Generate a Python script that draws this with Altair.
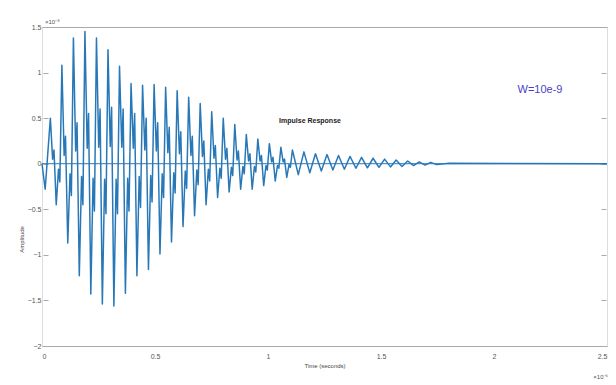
import altair as alt
import pandas as pd

# time in units of 1e-6 s, amplitude in units of 1e-8
peak_t = [0.037, 0.088, 0.139, 0.190, 0.241, 0.292, 0.343, 0.394, 0.445, 0.496,
          0.547, 0.598, 0.649, 0.700, 0.751, 0.802, 0.853, 0.904, 0.955, 1.006,
          1.057, 1.108, 1.159, 1.210, 1.261, 1.312, 1.363, 1.414, 1.465, 1.516,
          1.567, 1.618, 1.669, 1.720]
peak_amp = [0.50, 1.08, 1.38, 1.45, 1.38, 1.25, 1.07, 0.88, 0.86, 0.87,
            0.84, 0.80, 0.73, 0.66, 0.57, 0.50, 0.43, 0.32, 0.27, 0.22,
            0.18, 0.15, 0.13, 0.11, 0.10, 0.09, 0.08, 0.07, 0.06, 0.05,
            0.04, 0.03, 0.02, 0.015]
trough_t = [0.063, 0.114, 0.165, 0.216, 0.267, 0.318, 0.369, 0.420, 0.471, 0.522,
            0.573, 0.624, 0.675, 0.726, 0.777, 0.828, 0.879, 0.930, 0.981, 1.032,
            1.083, 1.134, 1.185, 1.236, 1.287, 1.338, 1.389, 1.440, 1.491, 1.542,
            1.593, 1.644, 1.695, 1.746]
trough_amp = [-0.45, -0.87, -1.23, -1.43, -1.54, -1.56, -1.42, -1.23, -1.16, -0.99,
              -0.86, -0.69, -0.57, -0.45, -0.37, -0.31, -0.28, -0.28, -0.24, -0.19,
              -0.15, -0.12, -0.10, -0.08, -0.07, -0.06, -0.05, -0.045, -0.04, -0.035,
              -0.03, -0.02, -0.015, -0.01]
ripple_t = [0.047, 0.053, 0.073, 0.079,
            0.098, 0.104, 0.124, 0.130,
            0.149, 0.155, 0.175, 0.181,
            0.200, 0.206, 0.226, 0.232,
            0.251, 0.257, 0.277, 0.283,
            0.302, 0.308, 0.328, 0.334,
            0.353, 0.359, 0.379, 0.385,
            0.404, 0.410, 0.430, 0.436,
            0.455, 0.461, 0.481, 0.487,
            0.506, 0.512, 0.532, 0.538,
            0.557, 0.563, 0.583, 0.589,
            0.608, 0.614, 0.634, 0.640,
            0.659, 0.665, 0.685, 0.691,
            0.710, 0.716, 0.736, 0.742,
            0.761, 0.767, 0.787, 0.793,
            0.812, 0.818, 0.838, 0.844,
            0.863, 0.869, 0.889, 0.895,
            0.914, 0.920, 0.940, 0.946,
            0.965, 0.971, 0.991, 0.997,
            1.016, 1.022, 1.042, 1.048,
            1.067, 1.073, 1.093, 1.099]
ripple_amp = [0.05, 0.15, -0.06, -0.20,
              0.09, 0.30, -0.11, -0.35,
              0.14, 0.45, -0.14, -0.45,
              0.17, 0.55, -0.16, -0.52,
              0.18, 0.60, -0.17, -0.55,
              0.19, 0.62, -0.17, -0.55,
              0.18, 0.60, -0.16, -0.52,
              0.17, 0.55, -0.14, -0.48,
              0.15, 0.50, -0.13, -0.42,
              0.14, 0.45, -0.11, -0.37,
              0.12, 0.40, -0.10, -0.32,
              0.11, 0.35, -0.08, -0.27,
              0.09, 0.30, -0.07, -0.23,
              0.08, 0.25, -0.06, -0.19,
              0.06, 0.20, -0.05, -0.16,
              0.05, 0.17, -0.04, -0.13,
              0.04, 0.14, -0.03, -0.11,
              0.03, 0.11, -0.03, -0.09,
              0.03, 0.09, -0.02, -0.07,
              0.02, 0.07, -0.02, -0.05,
              0.02, 0.05, -0.01, -0.04]
start_t = [0.0, 0.014]
start_amp = [0.0, -0.28]
tail_t = [1.80, 2.5]
tail_amp = [0.005, 0.0]

x_ticks = [0, 0.5, 1, 1.5, 2, 2.5]
y_ticks = [-2, -1.5, -1, -0.5, 0, 0.5, 1, 1.5]

df = pd.DataFrame({
    "t": start_t + peak_t + trough_t + ripple_t + tail_t,
    "amp": start_amp + peak_amp + trough_amp + ripple_amp + tail_amp,
}).sort_values("t").reset_index(drop=True)
df["order"] = range(len(df))

LINE = "#2878b8"
FONT = "Liberation Sans"

xscale = alt.Scale(domain=[0, 2.5], nice=False, zero=False)
yscale = alt.Scale(domain=[-2, 1.5], nice=False, zero=False)

line = alt.Chart(df).mark_line(color=LINE, strokeWidth=1.5, strokeJoin="round").encode(
    x=alt.X("t:Q", scale=xscale,
            axis=alt.Axis(orient="bottom", values=x_ticks, title="Time (seconds)",
                          format="~g",
                          grid=False, domainColor="#aaaaaa", ticks=False,
                          labelFontSize=7, labelColor="#555555", labelPadding=6,
                          titleFontSize=6, titleFontWeight="normal", titleColor="#444444",
                          titlePadding=3, labelFont=FONT, titleFont=FONT)),
    y=alt.Y("amp:Q", scale=yscale,
            axis=alt.Axis(orient="left", values=y_ticks, title="Amplitude",
                          format="~g",
                          grid=False, domain=False, tickSize=5, offset=-6,
                          tickColor="#aaaaaa", labelFontSize=7, labelColor="#555555",
                          labelPadding=2, titleFontSize=6, titleFontWeight="normal",
                          titleColor="#444444", titleX=-24, titleY=212,
                          labelFont=FONT, titleFont=FONT)),
    order="order:Q",
)

frame = alt.Chart().mark_rule(color=LINE, strokeWidth=1).encode(
    x=alt.datum(0, scale=xscale,
                axis=alt.Axis(orient="top", labels=False, ticks=False, grid=False,
                              domainColor="#aaaaaa", title=None)),
    x2=alt.datum(2.5),
    y=alt.datum(0, scale=yscale,
                axis=alt.Axis(orient="right", labels=False, domain=False, grid=False,
                              values=y_ticks, tickSize=5, offset=-6,
                              tickColor="#aaaaaa", title=None)),
)

title_txt = alt.Chart().mark_text(text="Impulse Response", fontSize=7, fontWeight="bold",
                                  color="#222222", font=FONT).encode(
    x=alt.value(268), y=alt.value(94))
w_txt = alt.Chart().mark_text(text="W=10e-9", fontSize=11, color="#4a3fc4",
                              font=FONT).encode(x=alt.value(498), y=alt.value(63))
ymul = alt.Chart().mark_text(text="×10⁻⁸", fontSize=6, color="#555555", align="left",
                             font=FONT).encode(x=alt.value(3), y=alt.value(-5))
xmul = alt.Chart().mark_text(text="×10⁻⁶", fontSize=6, color="#555555", align="right",
                             font=FONT).encode(x=alt.value(566), y=alt.value(31 + 319))

chart = alt.layer(line, frame, title_txt, w_txt, ymul, xmul).resolve_axis(
    x="independent", y="independent"
).properties(
    width=565, height=319,
    autosize=alt.AutoSizeParams(type="none"),
    padding={"left": 42, "top": 27, "right": 9, "bottom": 39},
).configure_view(stroke=None).configure(background="white")

chart.save("out.html", embed_options={"renderer": "svg", "actions": False})
